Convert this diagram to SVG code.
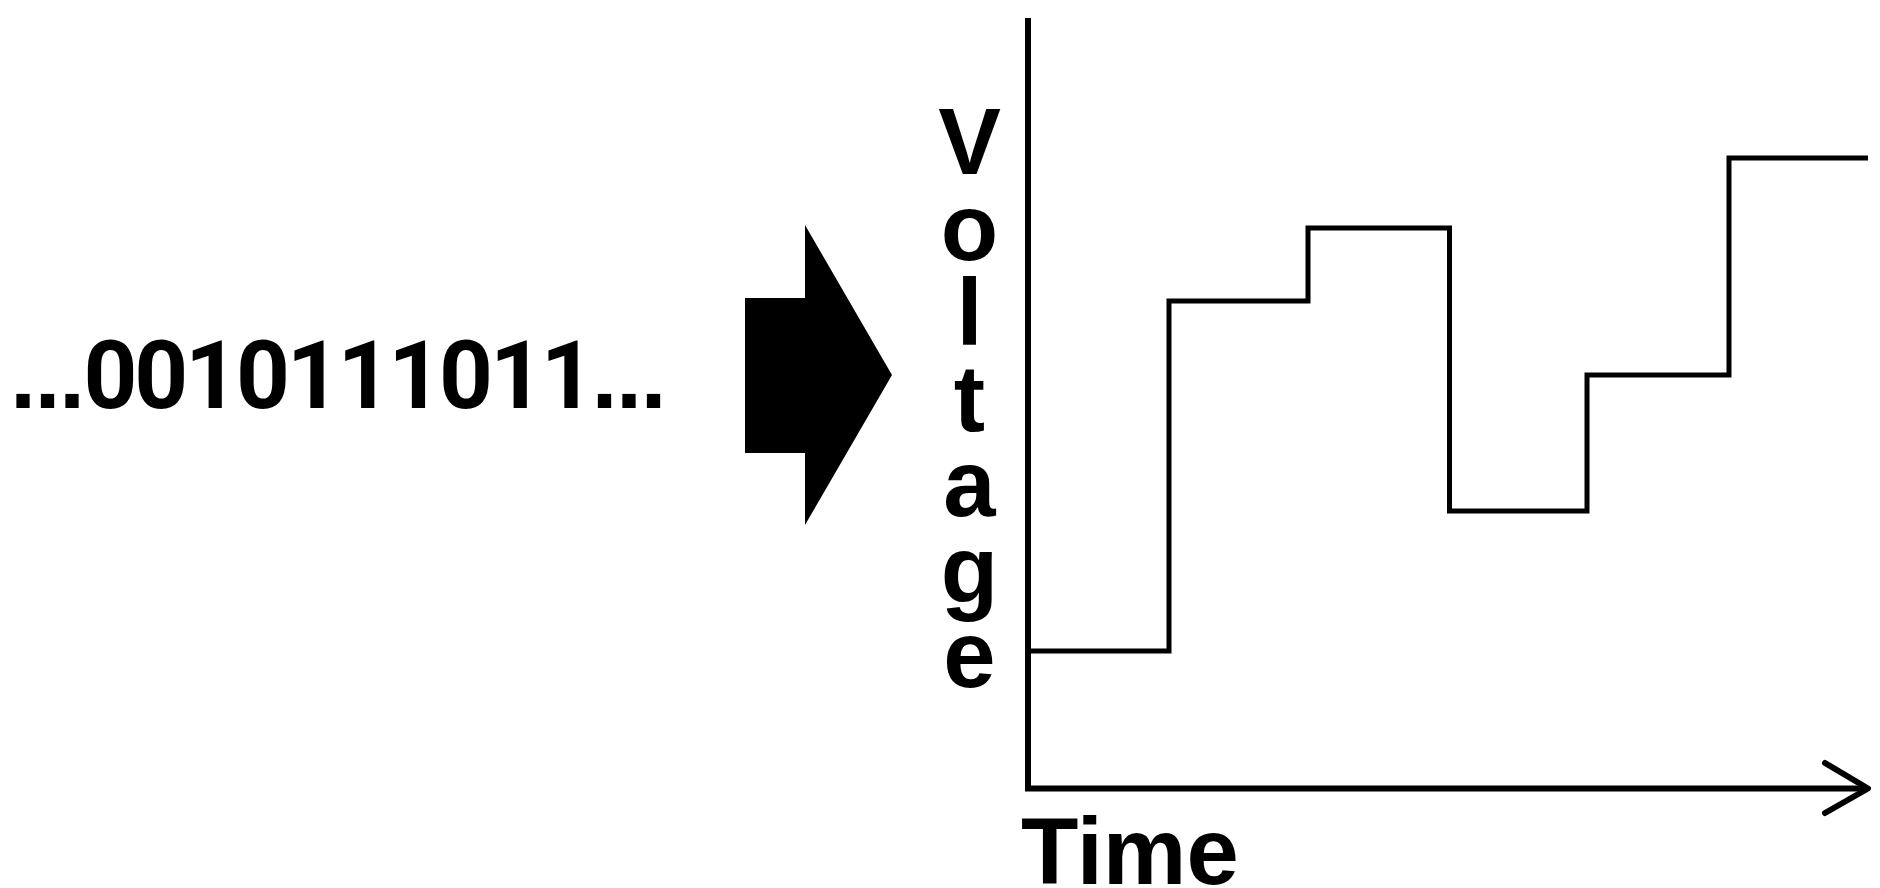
<svg xmlns="http://www.w3.org/2000/svg" width="1880" height="888" viewBox="0 0 1880 888">
<style>
.t{font-family:"Liberation Sans",Arial,sans-serif;font-weight:bold;fill:#000}
.d{font-family:Roboto,"Liberation Sans",sans-serif;font-weight:bold;fill:#000}
.ax{fill:none;stroke:#000;stroke-width:6}
</style>
<rect width="1880" height="888" fill="#fff"/>
<g id="bits"><text y="408" font-size="94"><tspan class="t" x="10 34.5 59">...</tspan><tspan class="d" x="83.5 134.3 185.1 235.9 286.7 337.5 388.3 439.1 489.9 540.7">0010111011</tspan><tspan class="t" x="591.5 616 640.5">...</tspan></text></g>
<g id="bigArrow"><polygon points="745,298 805,298 805,225 892,375 805,525 805,453 745,453" fill="#000"/></g>
<g id="voltageLabel" class="t" font-size="94" text-anchor="middle">
<text x="969.5" y="174">V</text>
<text x="969.5" y="259.5">o</text>
<text x="969.5" y="345">l</text>
<text x="969.5" y="430.5">t</text>
<text x="969.5" y="516">a</text>
<text x="969.5" y="601.5">g</text>
<text x="969.5" y="687">e</text>
</g>
<g id="timeLabel"><text class="t" x="1021" y="884" font-size="94">Time</text></g>
<g id="connectors">
<path class="ax" d="M1028,18 V788.5 H1868" stroke-linejoin="miter"/>
<path class="ax" d="M1825,763 L1868,788.5 L1825,813" stroke-linecap="round" stroke-linejoin="round"/>
</g>
<g id="signal"><path fill="none" stroke="#000" stroke-width="5" d="M1029,651 H1169 V301 H1308 V228 H1449.5 V511 H1587 V375 H1729 V158 H1868"/></g>
</svg>
